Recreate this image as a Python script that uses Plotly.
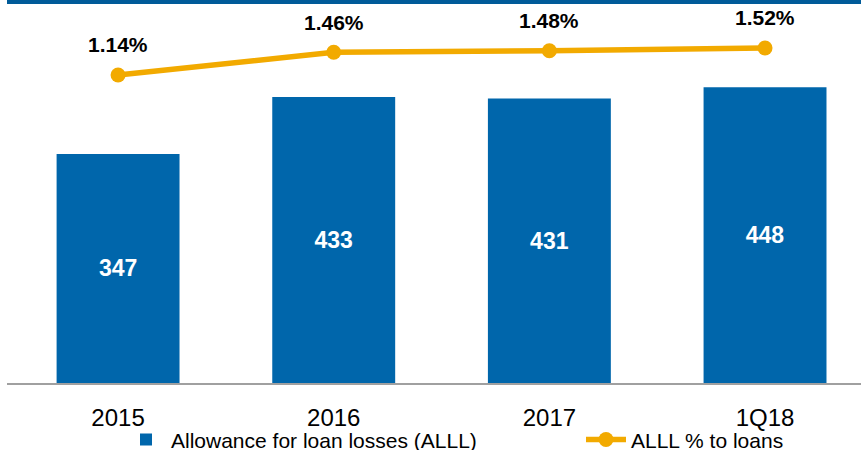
import plotly.graph_objects as go

categories = ["2015", "2016", "2017", "1Q18"]
allowance = [347, 433, 431, 448]
alll_pct = [1.14, 1.46, 1.48, 1.52]

BLUE = "#0066AB"
GOLD = "#F2AA00"
FONT = "Liberation Sans, Arial, sans-serif"

fig = go.Figure()
fig.add_trace(go.Bar(
    x=categories, y=allowance, name="Allowance for loan losses (ALLL)",
    marker=dict(color=BLUE, line=dict(width=0)), width=0.57,
    text=[str(v) for v in allowance], textposition="inside", insidetextanchor="middle",
    textfont=dict(color="white", size=23, family=FONT, weight="bold"),
    hoverinfo="skip", legend="legend",
))
fig.add_trace(go.Scatter(
    x=categories, y=alll_pct, name="ALLL % to loans", yaxis="y2",
    mode="lines+markers", line=dict(color=GOLD, width=5.5),
    marker=dict(color=GOLD, size=15), hoverinfo="skip", legend="legend2",
))
for i, v in enumerate(alll_pct):
    fig.add_annotation(x=i, y=v, xref="x", yref="y2", text=f"<b>{v:.2f}%</b>",
                       showarrow=False, yshift=30,
                       font=dict(size=21, color="black", family=FONT))

fig.add_shape(type="rect", xref="paper", yref="paper", x0=0, x1=1, y0=1.0, y1=1.0 + 4 / 379,
              fillcolor="#005B99", line=dict(width=0), layer="above")

legend_common = dict(orientation="h", yref="paper", xref="container",
                     y=-0.150, xanchor="left", yanchor="middle",
                     font=dict(size=21, family=FONT, color="black"),
                     itemwidth=40, bgcolor="rgba(0,0,0,0)", borderwidth=0)

fig.update_layout(
    width=861, height=450,
    margin=dict(l=7, r=0, t=4, b=67, autoexpand=False),
    paper_bgcolor="white", plot_bgcolor="white",
    showlegend=True,
    legend=dict(x=121 / 861, **legend_common),
    legend2=dict(x=581 / 861, **legend_common),
    xaxis=dict(type="category", range=[-0.515, 3.445], showline=True, linecolor="#A0A0A0",
               linewidth=2, ticks="", ticklabelstandoff=12, automargin=False,
               tickfont=dict(size=24, family=FONT, color="black"), showgrid=False),
    yaxis=dict(range=[0, 574], visible=False, showgrid=False),
    yaxis2=dict(range=[-3.195, 2.139], overlaying="y", visible=False, showgrid=False),
)
fig.write_html("out.html", config={"displayModeBar": False},
               post_script="document.body.style.margin='0';")
